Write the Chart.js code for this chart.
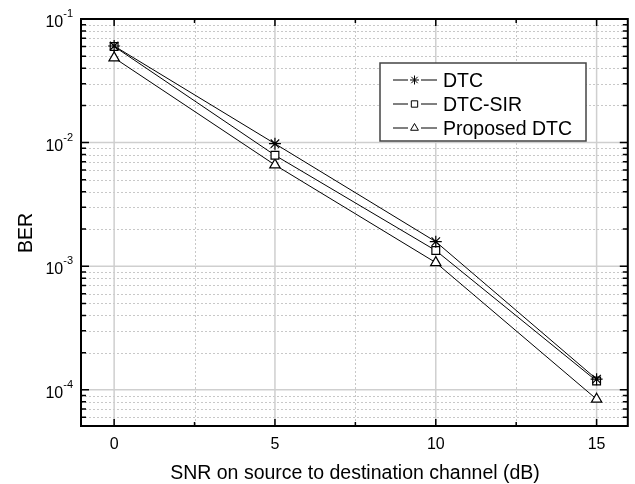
<!DOCTYPE html>
<html>
<head>
<meta charset="utf-8">
<script src="https://cdn.jsdelivr.net/npm/chart.js@4.4.0/dist/chart.umd.min.js"></script>
<style>
  html, body { margin: 0; padding: 0; background: #fff; }
  #wrap { width: 635px; height: 484px; }
</style>
</head>
<body>
<div id="wrap"><canvas id="mycanvas"></canvas></div>
<script>
var snr = [0, 5, 10, 15];
var berDTC = [0.0605, 0.0098, 0.00158, 0.000122];
var berSIR = [0.0600, 0.0079, 0.00134, 0.000118];
var berProposed = [0.0485, 0.0066, 0.00107, 0.000084];
var seriesNames = ['DTC', 'DTC-SIR', 'Proposed DTC'];
var markerStyles = ['star', 'rect', 'triangle'];
var xTicks = [0, 5, 10, 15];
var yDecades = [-4, -3, -2, -1];

var FONT = '"Liberation Sans", Arial, sans-serif';

function pts(ys) {
	var out = [];
	for (var i in snr) out.push({x: snr[i], y: ys[i]});
	return out;
}

// grid, ticks, frame, labels and legend
var framePlugin = {
	id: 'frame',
	beforeDatasetsDraw: function(chart) {
		var c = chart.ctx, a = chart.chartArea;
		var xs = chart.scales.x, ys = chart.scales.y;
		c.save();
		c.lineWidth = 1;
		// minor y grid (dotted)
		c.strokeStyle = '#c8c8c8';
		c.setLineDash([2, 2]);
		for (var d = -5; d <= -2; d++) {
			for (var m = 2; m <= 9; m++) {
				var v = m * Math.pow(10, d);
				if (v < ys.min || v > ys.max) continue;
				var py = Math.round(ys.getPixelForValue(v)) + 0.5;
				c.beginPath(); c.moveTo(a.left, py); c.lineTo(a.right, py); c.stroke();
			}
		}
		// minor x grid
		for (var k = 0; k < xTicks.length - 1; k++) {
			var px = Math.round(xs.getPixelForValue(xTicks[k] + 2.5)) + 0.5;
			c.beginPath(); c.moveTo(px, a.top); c.lineTo(px, a.bottom); c.stroke();
		}
		// major grid (solid)
		c.setLineDash([]);
		c.strokeStyle = '#cfcfcf';
		c.lineWidth = 1.5;
		yDecades.forEach(function(d) {
			var py = ys.getPixelForValue(Math.pow(10, d));
			c.beginPath(); c.moveTo(a.left, py); c.lineTo(a.right, py); c.stroke();
		});
		xTicks.forEach(function(t) {
			var px = xs.getPixelForValue(t);
			c.beginPath(); c.moveTo(px, a.top); c.lineTo(px, a.bottom); c.stroke();
		});
		c.restore();
	},
	afterDatasetsDraw: function(chart) {
		var c = chart.ctx, a = chart.chartArea;
		var xs = chart.scales.x, ys = chart.scales.y;
		c.save();
		c.strokeStyle = '#000';
		c.lineWidth = 2;
		c.strokeRect(a.left, a.top, a.right - a.left, a.bottom - a.top);
		// y ticks, inward on both sides
		c.lineWidth = 1.5;
		for (var d = -5; d <= -1; d++) {
			for (var m = 1; m <= 9; m++) {
				var v = m * Math.pow(10, d);
				if (v < ys.min * 0.999 || v > ys.max * 1.001) continue;
				var py = ys.getPixelForValue(v);
				var len = m === 1 ? 8 : 5;
				c.beginPath();
				c.moveTo(a.left, py); c.lineTo(a.left + len, py);
				c.moveTo(a.right, py); c.lineTo(a.right - len, py);
				c.stroke();
			}
		}
		// x ticks, inward top and bottom
		var allX = [];
		xTicks.forEach(function(t, i) {
			allX.push([t, 7]);
			if (i < xTicks.length - 1) allX.push([t + 2.5, 4]);
		});
		allX.forEach(function(p) {
			var px = xs.getPixelForValue(p[0]);
			c.beginPath();
			c.moveTo(px, a.bottom); c.lineTo(px, a.bottom - p[1]);
			c.moveTo(px, a.top); c.lineTo(px, a.top + p[1]);
			c.stroke();
		});

		// tick labels
		c.fillStyle = '#000';
		c.font = '16px ' + FONT;
		c.textAlign = 'center';
		c.textBaseline = 'alphabetic';
		xTicks.forEach(function(t) {
			c.fillText(String(t), xs.getPixelForValue(t), 449);
		});
		yDecades.forEach(function(d) {
			var py = ys.getPixelForValue(Math.pow(10, d));
			c.font = '11px ' + FONT;
			var sup = String(d);
			var sw = c.measureText(sup).width;
			c.font = '16px ' + FONT;
			var bw = c.measureText('10').width;
			var right = a.left - 8;
			c.textAlign = 'left';
			c.textBaseline = 'alphabetic';
			c.fillText('10', right - sw - bw, py + 8);
			c.font = '11px ' + FONT;
			c.fillText(sup, right - sw, py - 2);
		});

		// axis titles
		c.font = '19.5px ' + FONT;
		c.textAlign = 'center';
		c.textBaseline = 'alphabetic';
		c.fillText('SNR on source to destination channel (dB)', 355, 479);
		c.save();
		c.translate(32, 233);
		c.rotate(-Math.PI / 2);
		c.fillText('BER', 0, 0);
		c.restore();

		// legend
		var lx = 380, ly = 63, lw = 206, lh = 78;
		c.fillStyle = '#fff';
		c.fillRect(lx, ly, lw, lh);
		c.strokeStyle = '#444';
		c.lineWidth = 1.5;
		c.strokeRect(lx, ly, lw, lh);
		var rows = [80, 104, 128];
		chart.data.datasets.forEach(function(ds, i) {
			var ry = rows[i];
			c.strokeStyle = '#000';
			c.lineWidth = 1;
			c.beginPath();
			c.moveTo(393, ry); c.lineTo(408, ry);
			c.moveTo(421, ry); c.lineTo(437, ry);
			c.stroke();
			c.fillStyle = '#fff';
			Chart.helpers.drawPoint(c, {
				pointStyle: ds.pointStyle, radius: 4.5, rotation: 0,
				borderWidth: 1
			}, 414.5, ry);
			c.fillStyle = '#000';
			c.font = '19.5px ' + FONT;
			c.textAlign = 'left';
			c.textBaseline = 'alphabetic';
			c.fillText(ds.label, 443, ry + 7);
		});
		c.restore();
	}
};

var dataSets = [berDTC, berSIR, berProposed];
var datasets = [];
for (var i in dataSets) {
	datasets.push({
		label: seriesNames[i],
		data: pts(dataSets[i]),
		borderColor: '#000',
		backgroundColor: '#fff',
		borderWidth: 1,
		pointStyle: markerStyles[i],
		pointRadius: markerStyles[i] === 'rect' ? 5.5 : 6,
		pointBorderColor: '#000',
		pointBackgroundColor: 'rgba(255,255,255,1)',
		pointBorderWidth: 1.2,
		tension: 0
	});
}

var ctx = document.getElementById('mycanvas');
new Chart(ctx, {
	type: 'line',
	data: { datasets: datasets },
	options: {
		responsive: true,
		maintainAspectRatio: false,
		animation: false,
		devicePixelRatio: 1,
		layout: { padding: { left: 81, top: 19, right: 7, bottom: 58 } },
		plugins: { legend: { display: false }, tooltip: { enabled: false } },
		scales: {
			x: { type: 'linear', min: -1.03, max: 15.97, display: false },
			y: { type: 'logarithmic', min: 5.1e-5, max: 0.1, display: false }
		}
	},
	plugins: [framePlugin]
});
</script>
</body>
</html>
